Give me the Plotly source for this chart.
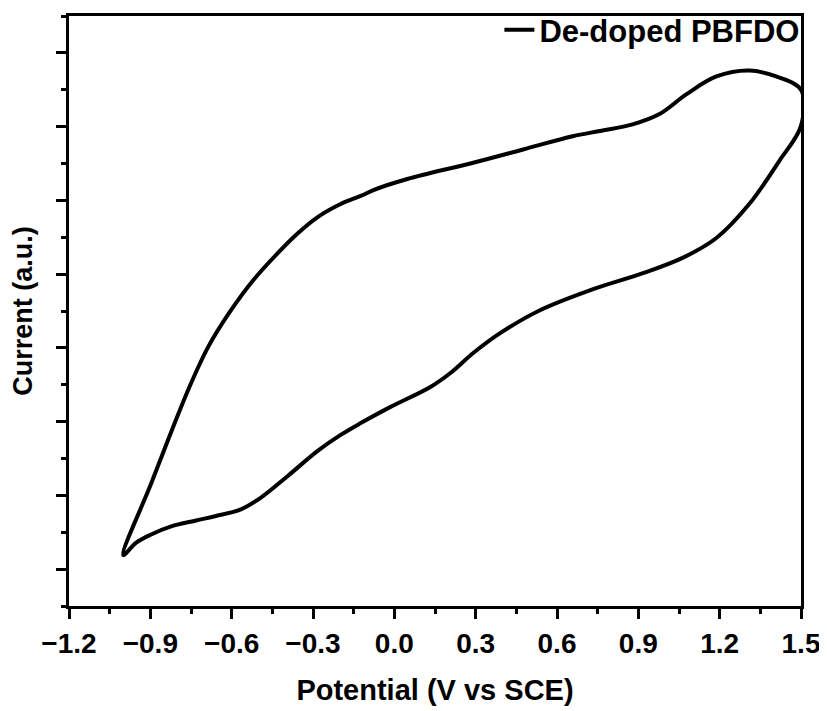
import plotly.graph_objects as go

# Cyclic voltammogram of de-doped PBFDO
potential_upper = [-1.00, -0.897, -0.823, -0.757, -0.687, -0.610, -0.522, -0.431, -0.357, -0.284,
                   -0.198, -0.124, -0.077, 0.048, 0.291, 0.475, 0.658, 0.758, 0.879, 0.978,
                   1.078, 1.188, 1.309, 1.408, 1.5]
current_upper = [0.19, 1.16, 1.86, 2.46, 3.01, 3.47, 3.91, 4.28, 4.55, 4.77,
                 4.95, 5.06, 5.14, 5.29, 5.51, 5.69, 5.87, 5.94, 6.03, 6.17,
                 6.44, 6.68, 6.76, 6.68, 6.50]
potential_lower = [1.5, 1.419, 1.309, 1.188, 1.063, 0.923, 0.721, 0.537, 0.390, 0.291,
                   0.207, 0.133, -0.014, -0.124, -0.198, -0.284, -0.394, -0.492, -0.566,
                   -0.658, -0.731, -0.823, -0.897, -0.952, -1.00]
current_lower = [6.01, 5.53, 4.95, 4.49, 4.22, 4.02, 3.78, 3.51, 3.20, 2.93,
                 2.66, 2.47, 2.20, 1.98, 1.82, 1.60, 1.26, 0.97, 0.81,
                 0.72, 0.66, 0.58, 0.47, 0.36, 0.19]

series_name = "De-doped PBFDO"
x_title = "Potential (V vs SCE)"
y_title = "Current (a.u.)"

x_vals = potential_upper + potential_lower
y_vals = current_upper + current_lower

FONT = "Liberation Sans, Arial, sans-serif"

fig = go.Figure()
fig.add_trace(go.Scatter(
    x=x_vals, y=y_vals, mode="lines", name=series_name,
    line=dict(color="black", width=4, shape="spline", smoothing=1.0),
))

# the page body has an 8px margin, so the figure is sized to fit the window
fig.update_layout(
    width=819, height=703,
    margin=dict(l=61, r=26, t=8, b=105, autoexpand=False),
    paper_bgcolor="white", plot_bgcolor="white",
    font=dict(family=FONT, color="black"),
    showlegend=True,
    legend=dict(x=1.006, y=1.022, xanchor="right", yanchor="top",
                bgcolor="rgba(0,0,0,0)", borderwidth=0, tracegroupgap=0,
                font=dict(family=FONT, size=31, color="black", weight="bold")),
)

fig.update_xaxes(
    range=[-1.2, 1.5], tick0=-1.2, dtick=0.3, tickformat=".1f",
    automargin=False, ticklabelstandoff=0,
    showline=True, linecolor="black", linewidth=3, mirror=True,
    ticks="outside", ticklen=10, tickwidth=3, tickcolor="black",
    minor=dict(ticks="outside", ticklen=5, tickwidth=3, tickcolor="black", dtick=0.15, tick0=-1.2),
    showgrid=False, zeroline=False,
    tickfont=dict(family=FONT, size=28, color="black", weight="bold"),
    title=dict(text=x_title, font=dict(family=FONT, size=29, color="black", weight="bold"), standoff=23),
)
fig.update_yaxes(
    range=[-0.5, 7.5], tick0=0, dtick=1, showticklabels=False,
    automargin=False,
    showline=True, linecolor="black", linewidth=3, mirror=True,
    ticks="outside", ticklen=10, tickwidth=3, tickcolor="black",
    minor=dict(ticks="outside", ticklen=5, tickwidth=3, tickcolor="black", dtick=0.5, tick0=0),
    showgrid=False, zeroline=False,
    title=dict(text=y_title, font=dict(family=FONT, size=27, color="black", weight="bold"), standoff=18),
)

fig.write_html("out.html")
